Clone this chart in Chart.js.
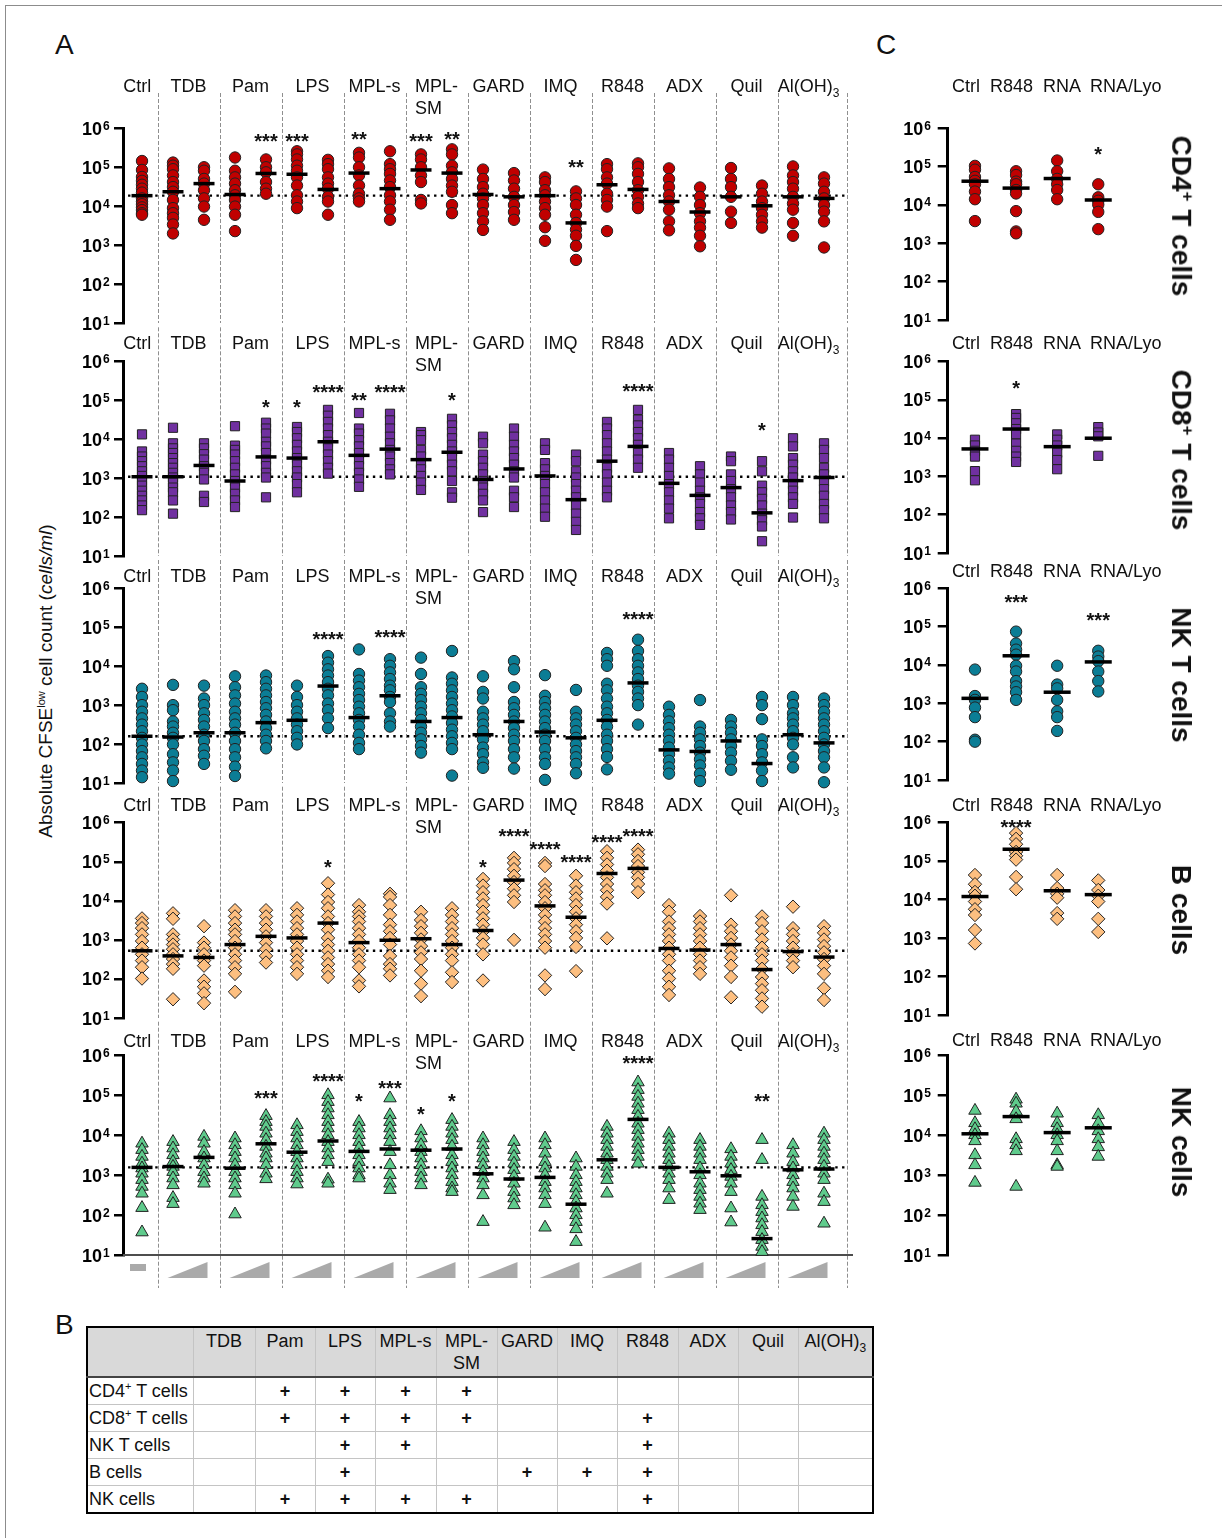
<!DOCTYPE html>
<html>
<head>
<meta charset="utf-8">
<script src="https://cdn.jsdelivr.net/npm/chart.js@4.4.1/dist/chart.umd.min.js"></script>
<style>
  body { margin: 0; background: #fff; font-family: "Liberation Sans", Arial, sans-serif; color: #111; }
  #page { position: relative; width: 1222px; height: 1538px; overflow: hidden; }
  #frame { position: absolute; left: 5px; top: 5px; width: 1300px; height: 1600px; border: 1px solid #8c8c8c; }
  .letter { position: absolute; font-size: 28px; line-height: 28px; }
  .rotated { position: absolute; white-space: nowrap; transform: translate(-50%, -50%) rotate(90deg); }
  #ytitle { position: absolute; left: 46px; top: 681px; white-space: nowrap; font-size: 19px; transform: translate(-50%, -50%) rotate(-90deg); }
  #ytitle sup { font-size: 11px; }
  .cellTitle { font-size: 28px; font-weight: bold; }
  .cellTitle sup { font-size: 17px; }
  table { position: absolute; left: 86px; top: 1326px; border-collapse: collapse; table-layout: fixed; border: 2px solid #000; font-size: 18px; }
  td { border: 1px solid #c4c4c4; padding: 0; height: 26px; text-align: center; overflow: visible; white-space: nowrap; }
  tr.head td { background: #d9d9d9; height: 46px; vertical-align: top; line-height: 22px; padding-top: 2px; border-bottom: 2px solid #444; }
  td.name { text-align: left; padding-left: 1px; }
  td.hit { font-weight: bold; }
  td sup { font-size: 11px; }
  td sub { font-size: 12px; }
</style>
</head>
<body>
<div id="page">
  <div id="frame"></div>
  <div class="letter" style="left:55px;top:31px">A</div>
  <div class="letter" style="left:876px;top:31px">C</div>
  <div class="letter" style="left:55px;top:1311px">B</div>
  <div id="ytitle">Absolute CFSE<sup>low</sup> cell count (<i>cells/ml</i>)</div>
</div>
<script>
// values are log10(cells/ml); one inner array per column
// panel A columns: Ctrl, then low/high dose of each adjuvant
const adjuvants = ['TDB', 'Pam', 'LPS', 'MPL-s', 'MPL-SM', 'GARD', 'IMQ', 'R848', 'ADX', 'Quil', 'Al(OH)3'];
const panelCGroups = ['Ctrl', 'R848', 'RNA', 'RNA/Lyo'];
const cellTypes = ['CD4<sup>+</sup> T cells', 'CD8<sup>+</sup> T cells', 'NK T cells', 'B cells', 'NK cells'];
const tickPowers = [1, 2, 3, 4, 5, 6];

const cd4Values = [
  [5.16, 4.93, 4.75, 4.65, 4.55, 4.45, 4.35, 4.2, 4.12, 4.05, 3.97, 3.9, 3.82, 3.78],
  [5.12, 5.04, 4.95, 4.79, 4.62, 4.49, 4.37, 4.16, 3.95, 3.82, 3.7, 3.53, 3.3],
  [5.0, 4.91, 4.7, 4.58, 4.41, 4.2, 3.99, 3.65],
  [5.25, 4.91, 4.74, 4.58, 4.41, 4.28, 4.16, 3.99, 3.78, 3.36],
  [5.2, 5.0, 4.87, 4.62, 4.45, 4.32],
  [5.41, 5.33, 5.2, 5.04, 4.91, 4.74, 4.53, 4.28, 4.12, 3.95],
  [5.19, 5.08, 4.95, 4.74, 4.58, 4.45, 4.24, 4.12, 3.78],
  [5.37, 5.25, 5.0, 4.79, 4.53, 4.32, 4.2, 4.12],
  [5.41, 5.08, 4.95, 4.83, 4.66, 4.49, 4.28, 4.12, 3.91, 3.65],
  [5.33, 5.2, 5.0, 4.79, 4.62, 4.16, 4.07],
  [5.46, 5.33, 5.04, 4.87, 4.7, 4.53, 4.37, 4.03, 3.82],
  [4.94, 4.7, 4.49, 4.32, 4.2, 4.03, 3.82, 3.61, 3.39],
  [4.85, 4.66, 4.45, 4.24, 4.03, 3.85, 3.65],
  [4.74, 4.62, 4.41, 4.28, 4.12, 3.95, 3.78, 3.46, 3.11],
  [4.38, 4.2, 4.03, 3.78, 3.57, 3.4, 3.24, 2.98, 2.62],
  [5.08, 4.95, 4.74, 4.58, 4.32, 4.16, 3.99, 3.36],
  [5.1, 5.0, 4.83, 4.62, 4.41, 4.24, 4.07, 3.95],
  [4.97, 4.7, 4.49, 4.28, 4.12, 3.91, 3.61, 3.38],
  [4.48, 4.24, 4.03, 3.82, 3.61, 3.45, 3.24, 2.97],
  [4.98, 4.7, 4.49, 4.24, 3.86, 3.57],
  [4.53, 4.32, 4.12, 3.95, 3.78, 3.61, 3.45],
  [5.02, 4.79, 4.62, 4.45, 4.24, 4.07, 3.91, 3.57, 3.24],
  [4.74, 4.58, 4.37, 4.2, 4.03, 3.86, 3.61, 2.94]
];
const cd4Medians = [4.27, 4.37, 4.58, 4.3, 4.84, 4.82, 4.43, 4.85, 4.45, 4.93, 4.85, 4.3, 4.24, 4.27, 3.57, 4.55, 4.43, 4.12, 3.85, 4.24, 4.01, 4.24, 4.2];
const cd4Stars = [[4, '***', 5.78], [5, '***', 5.78], [7, '**', 5.83], [9, '***', 5.78], [10, '**', 5.83], [14, '**', 5.13]];

const cd8Values = [
  [4.13, 3.69, 3.56, 3.44, 3.31, 3.18, 3.06, 2.93, 2.81, 2.68, 2.55, 2.43, 2.3, 2.18],
  [4.3, 3.9, 3.77, 3.65, 3.52, 3.39, 3.27, 3.14, 3.02, 2.89, 2.76, 2.64, 2.43, 2.09],
  [3.9, 3.77, 3.62, 3.48, 3.31, 3.14, 2.97, 2.55, 2.39],
  [4.34, 3.84, 3.73, 3.61, 3.44, 3.27, 3.1, 2.93, 2.76, 2.6, 2.43, 2.26],
  [4.43, 4.28, 4.15, 3.94, 3.82, 3.65, 3.48, 3.31, 3.14, 3.02, 2.51],
  [4.32, 4.19, 4.03, 3.86, 3.69, 3.52, 3.35, 3.18, 3.02, 2.85, 2.64],
  [4.76, 4.61, 4.45, 4.28, 4.11, 3.94, 3.77, 3.61, 3.44, 3.27, 3.12],
  [4.68, 4.28, 4.15, 3.98, 3.82, 3.65, 3.48, 3.31, 3.14, 2.97, 2.78],
  [4.66, 4.49, 4.28, 4.07, 3.9, 3.73, 3.56, 3.39, 3.23, 3.1],
  [4.19, 4.11, 3.98, 3.73, 3.56, 3.39, 3.23, 3.06, 2.89, 2.7],
  [4.53, 4.36, 4.19, 4.03, 3.86, 3.69, 3.52, 3.35, 3.18, 2.93, 2.64, 2.5],
  [4.07, 3.9, 3.61, 3.44, 3.27, 3.1, 2.93, 2.76, 2.6, 2.43, 2.13],
  [4.28, 4.07, 3.86, 3.69, 3.52, 3.35, 3.18, 3.02, 2.68, 2.51, 2.26],
  [3.9, 3.73, 3.39, 3.23, 3.06, 2.85, 2.64, 2.43, 2.22, 2.01],
  [3.61, 3.44, 3.18, 3.02, 2.85, 2.68, 2.51, 2.3, 2.09, 1.88, 1.67],
  [4.45, 4.28, 4.11, 3.9, 3.69, 3.48, 3.27, 3.1, 2.89, 2.68, 2.51],
  [4.76, 4.51, 4.36, 4.19, 4.03, 3.86, 3.65, 3.48, 3.27],
  [3.65, 3.48, 3.27, 3.06, 2.85, 2.64, 2.43, 2.22, 1.97],
  [3.31, 3.1, 2.89, 2.68, 2.51, 2.34, 2.13, 1.97, 1.8],
  [3.56, 3.44, 3.1, 2.93, 2.72, 2.51, 2.3, 2.13, 1.94],
  [3.44, 3.18, 2.81, 2.64, 2.47, 2.3, 2.09, 1.92, 1.76, 1.38],
  [4.03, 3.82, 3.52, 3.35, 3.18, 3.02, 2.85, 2.68, 2.51, 2.34, 1.99],
  [3.9, 3.73, 3.52, 3.27, 3.1, 2.93, 2.72, 2.55, 2.34, 2.18, 1.97]
];
const cd8Medians = [3.04, 3.04, 3.33, 2.93, 3.55, 3.52, 3.94, 3.59, 3.75, 3.48, 3.67, 2.97, 3.24, 3.06, 2.45, 3.44, 3.82, 2.87, 2.56, 2.76, 2.11, 2.94, 3.02];
const cd8Stars = [[4, '*', 4.95], [5, '*', 4.95], [6, '****', 5.33], [7, '**', 5.12], [8, '****', 5.33], [10, '*', 5.12], [16, '****', 5.37], [20, '*', 4.36]];

const nktValues = [
  [3.42, 3.21, 3.0, 2.83, 2.66, 2.5, 2.33, 2.16, 1.99, 1.82, 1.66, 1.49, 1.32, 1.15],
  [3.52, 3.0, 2.87, 2.58, 2.45, 2.29, 2.16, 1.99, 1.74, 1.53, 1.32, 1.05],
  [3.5, 3.17, 3.0, 2.79, 2.62, 2.45, 2.24, 2.08, 1.87, 1.7, 1.49],
  [3.74, 3.46, 3.25, 3.04, 2.83, 2.66, 2.5, 2.29, 2.08, 1.87, 1.66, 1.42, 1.18],
  [3.76, 3.59, 3.42, 3.25, 3.08, 2.92, 2.75, 2.58, 2.41, 2.24, 2.08, 1.89],
  [3.5, 3.21, 3.0, 2.83, 2.66, 2.5, 2.33, 2.16, 1.99],
  [4.26, 4.09, 3.92, 3.76, 3.59, 3.42, 3.25, 3.04, 2.87, 2.66, 2.41],
  [4.43, 3.8, 3.63, 3.46, 3.29, 3.13, 2.96, 2.79, 2.62, 2.45, 2.24, 2.03, 1.87],
  [4.18, 4.01, 3.84, 3.67, 3.5, 3.38, 3.21, 3.08, 2.79, 2.58, 2.45],
  [4.22, 3.8, 3.46, 3.29, 3.13, 2.96, 2.79, 2.62, 2.45, 2.29, 2.12, 1.95, 1.78],
  [4.39, 3.71, 3.55, 3.38, 3.21, 3.04, 2.87, 2.71, 2.54, 2.37, 2.2, 2.03, 1.87, 1.19],
  [3.74, 3.34, 3.17, 2.83, 2.66, 2.5, 2.33, 2.12, 1.91, 1.74, 1.53, 1.39],
  [4.13, 3.92, 3.46, 3.08, 2.92, 2.75, 2.58, 2.41, 2.24, 2.08, 1.87, 1.66, 1.37],
  [3.77, 3.24, 3.08, 2.92, 2.75, 2.58, 2.41, 2.24, 2.08, 1.87, 1.66, 1.49, 1.08],
  [3.39, 2.83, 2.66, 2.5, 2.33, 2.16, 1.99, 1.82, 1.66, 1.49, 1.25],
  [4.34, 4.18, 4.01, 3.55, 3.38, 3.17, 2.96, 2.79, 2.62, 2.45, 2.24, 2.08, 1.87, 1.67, 1.35],
  [4.68, 4.39, 4.18, 4.01, 3.84, 3.67, 3.5, 3.34, 3.17, 3.0, 2.5],
  [2.96, 2.75, 2.58, 2.41, 2.24, 2.08, 1.91, 1.74, 1.57, 1.4, 1.24],
  [3.13, 2.45, 2.29, 2.12, 1.95, 1.78, 1.61, 1.45, 1.24, 1.05],
  [2.62, 2.45, 2.29, 2.12, 1.95, 1.78, 1.57, 1.34],
  [3.21, 3.0, 2.64, 2.12, 1.95, 1.74, 1.53, 1.32, 1.05],
  [3.21, 3.0, 2.79, 2.66, 2.5, 2.33, 2.16, 1.99, 1.66, 1.4],
  [3.17, 3.0, 2.83, 2.66, 2.5, 2.33, 2.16, 1.99, 1.82, 1.66, 1.4, 1.02]
];
const nktMedians = [2.2, 2.18, 2.29, 2.29, 2.55, 2.61, 3.49, 2.68, 3.24, 2.58, 2.68, 2.24, 2.58, 2.31, 2.16, 2.61, 3.57, 1.85, 1.81, 2.08, 1.5, 2.24, 2.03];
const nktStars = [[6, '****', 4.82], [8, '****', 4.87], [16, '****', 5.33]];

const bValues = [
  [3.55, 3.43, 3.3, 3.14, 2.97, 2.8, 2.63, 2.47, 2.3, 2.01],
  [3.68, 3.54, 3.14, 3.01, 2.88, 2.76, 2.63, 2.51, 2.38, 2.26, 1.48],
  [3.35, 2.93, 2.8, 2.63, 2.47, 2.34, 1.96, 1.8, 1.63, 1.38],
  [3.76, 3.6, 3.43, 3.26, 3.14, 2.97, 2.8, 2.63, 2.47, 2.3, 2.13, 1.67],
  [3.76, 3.6, 3.43, 3.26, 3.09, 2.93, 2.76, 2.59, 2.42],
  [3.81, 3.64, 3.47, 3.3, 3.14, 2.97, 2.8, 2.63, 2.47, 2.3, 2.13],
  [4.45, 4.16, 3.97, 3.81, 3.6, 3.43, 3.26, 3.05, 2.88, 2.72, 2.55, 2.38, 2.21, 2.05],
  [3.89, 3.72, 3.6, 3.47, 3.3, 3.14, 2.97, 2.8, 2.63, 2.47, 2.3, 1.96, 1.81],
  [4.18, 4.1, 3.89, 3.64, 3.39, 3.22, 3.05, 2.88, 2.59, 2.38, 2.26, 2.09],
  [3.72, 3.51, 3.35, 3.18, 3.01, 2.84, 2.68, 2.51, 2.21, 1.88, 1.56],
  [3.81, 3.64, 3.47, 3.3, 3.14, 2.97, 2.8, 2.63, 2.47, 2.17, 1.92],
  [4.56, 4.39, 4.22, 4.06, 3.89, 3.72, 3.55, 3.39, 3.22, 3.05, 2.88, 2.63, 1.96],
  [5.1, 4.97, 4.81, 4.64, 4.48, 4.31, 4.14, 3.97, 3.0],
  [4.97, 4.89, 4.43, 4.27, 4.14, 3.97, 3.81, 3.64, 3.47, 3.3, 3.14, 2.97, 2.8, 2.09, 1.74],
  [4.64, 4.39, 4.22, 4.06, 3.89, 3.72, 3.55, 3.39, 3.22, 3.05, 2.82, 2.2],
  [5.27, 5.1, 4.93, 4.77, 4.6, 4.43, 4.27, 4.1, 3.93, 3.04],
  [5.31, 5.19, 5.02, 4.89, 4.73, 4.6, 4.43, 4.22],
  [3.89, 3.72, 3.47, 3.3, 3.14, 2.97, 2.8, 2.63, 2.47, 2.21, 2.01, 1.8, 1.59],
  [3.61, 3.47, 3.3, 3.14, 2.97, 2.8, 2.63, 2.47, 2.3, 2.13],
  [4.14, 3.39, 3.22, 3.05, 2.88, 2.72, 2.55, 2.34, 2.05, 1.53],
  [3.6, 3.43, 3.22, 3.01, 2.8, 2.63, 2.47, 2.26, 2.05, 1.88, 1.71, 1.5, 1.29],
  [3.85, 3.3, 3.14, 2.97, 2.8, 2.63, 2.47, 2.3],
  [3.35, 3.18, 3.01, 2.84, 2.68, 2.51, 2.34, 2.13, 1.76, 1.46]
];
const bMedians = [2.72, 2.59, 2.55, 2.88, 3.09, 3.05, 3.43, 2.93, 2.99, 3.03, 2.88, 3.24, 4.53, 3.87, 3.58, 4.7, 4.83, 2.78, 2.74, 2.88, 2.24, 2.7, 2.56];
const bStars = [[6, '*', 4.98], [11, '*', 4.98], [12, '****', 5.77], [13, '****', 5.44], [14, '****', 5.11], [15, '****', 5.61], [16, '****', 5.77]];

const nkValues = [
  [3.79, 3.63, 3.46, 3.29, 3.17, 3.04, 2.88, 2.71, 2.54, 2.18, 1.57],
  [3.83, 3.67, 3.5, 3.33, 3.21, 3.08, 2.92, 2.75, 2.43, 2.28],
  [3.96, 3.79, 3.58, 3.42, 3.25, 3.08, 2.92, 2.79],
  [3.92, 3.75, 3.58, 3.42, 3.25, 3.08, 2.92, 2.75, 2.54, 2.02],
  [4.48, 4.33, 4.21, 4.04, 3.88, 3.71, 3.54, 3.42, 3.25, 3.04, 2.9],
  [4.25, 4.08, 3.92, 3.75, 3.58, 3.42, 3.25, 3.08, 2.92, 2.77],
  [5.0, 4.83, 4.67, 4.5, 4.33, 4.17, 4.0, 3.83, 3.67, 3.5, 3.33, 2.89, 2.79],
  [4.33, 4.17, 4.0, 3.83, 3.67, 3.5, 3.33, 3.17, 3.0, 2.92],
  [4.92, 4.5, 4.33, 4.17, 4.0, 3.83, 3.58, 3.25, 3.0, 2.79, 2.63],
  [4.1, 3.92, 3.75, 3.58, 3.42, 3.25, 3.08, 2.92, 2.75],
  [4.38, 4.21, 4.04, 3.88, 3.71, 3.5, 3.33, 3.17, 3.0, 2.83, 2.67, 2.58],
  [3.92, 3.75, 3.58, 3.42, 3.25, 3.08, 2.92, 2.75, 2.5, 1.83],
  [3.83, 3.63, 3.46, 3.29, 3.13, 2.96, 2.79, 2.58, 2.42, 2.25],
  [3.92, 3.75, 3.54, 3.33, 3.17, 3.0, 2.83, 2.67, 2.5, 2.28, 1.69],
  [3.42, 3.21, 3.0, 2.83, 2.67, 2.5, 2.33, 2.17, 2.0, 1.83, 1.65, 1.33],
  [4.21, 4.04, 3.88, 3.71, 3.54, 3.38, 3.21, 3.04, 2.88, 2.54],
  [5.32, 5.13, 4.96, 4.79, 4.63, 4.46, 4.29, 4.13, 3.96, 3.79, 3.63, 3.46, 3.29],
  [4.04, 3.88, 3.71, 3.54, 3.38, 3.21, 3.04, 2.88, 2.67, 2.38],
  [3.88, 3.71, 3.54, 3.38, 3.17, 3.0, 2.79, 2.63, 2.46, 2.29, 2.13],
  [3.65, 3.46, 3.29, 3.13, 2.96, 2.79, 2.58, 2.17, 1.82],
  [3.88, 3.38, 2.46, 2.25, 2.08, 1.92, 1.75, 1.58, 1.38, 1.21, 1.08],
  [3.75, 3.54, 3.33, 3.17, 3.0, 2.83, 2.67, 2.46, 2.21],
  [4.04, 3.88, 3.71, 3.54, 3.38, 3.21, 3.04, 2.88, 2.54, 2.33, 1.79]
];
const nkMedians = [3.19, 3.21, 3.44, 3.17, 3.78, 3.57, 3.85, 3.59, 3.65, 3.62, 3.65, 3.03, 2.9, 2.94, 2.27, 3.38, 4.39, 3.19, 3.08, 2.98, 1.41, 3.13, 3.15];
const nkStars = [[4, '***', 5.04], [6, '****', 5.46], [7, '*', 4.96], [8, '***', 5.29], [9, '*', 4.63], [10, '*', 4.96], [16, '****', 5.92], [20, '**', 4.96]];

// panel C: Ctrl, R848, RNA, RNA/Lyo
const cd4ValuesC = [[5.02, 4.92, 4.73, 4.63, 4.54, 4.35, 4.15, 3.58], [4.88, 4.78, 4.61, 4.54, 4.39, 4.3, 3.84, 3.31, 3.26], [5.16, 4.88, 4.68, 4.54, 4.39, 4.15], [4.54, 4.2, 4.11, 4.01, 3.82, 3.37]];
const cd4MediansC = [4.62, 4.44, 4.69, 4.13];
const cd4StarsC = [[3, '*', 5.45]];
const cd8ValuesC = [[3.96, 3.81, 3.67, 3.52, 3.14, 2.9], [4.63, 4.53, 4.39, 4.24, 4.1, 3.86, 3.67, 3.52, 3.38], [4.1, 3.96, 3.81, 3.62, 3.43, 3.19], [4.29, 4.15, 4.05, 3.54]];
const cd8MediansC = [3.72, 4.24, 3.78, 4.0];
const cd8StarsC = [[1, '*', 5.44]];
const nktValuesC = [[3.88, 3.19, 3.09, 2.89, 2.64, 2.05, 2.0], [4.87, 4.56, 4.4, 4.27, 3.98, 3.83, 3.58, 3.44, 3.29, 3.09], [3.98, 3.49, 3.39, 3.09, 2.79, 2.64, 2.28], [4.37, 4.22, 4.1, 3.83, 3.58, 3.31]];
const nktMediansC = [3.13, 4.24, 3.29, 4.08];
const nktStarsC = [[1, '***', 5.77], [3, '***', 5.28]];
const bValuesC = [[4.64, 4.4, 4.2, 4.1, 3.95, 3.75, 3.6, 3.21, 2.86], [5.73, 5.58, 5.44, 5.24, 5.14, 5.04, 4.59, 4.27], [4.64, 4.3, 4.15, 4.05, 3.65, 3.5], [4.5, 4.25, 4.1, 3.95, 3.5, 3.16]];
const bMediansC = [4.08, 5.31, 4.23, 4.13];
const bStarsC = [[1, '****', 6.0]];
const nkValuesC = [[4.61, 4.3, 4.15, 4.0, 3.85, 3.5, 3.25, 2.81], [4.89, 4.79, 4.59, 4.4, 3.9, 3.75, 3.6, 2.71], [4.54, 4.3, 4.15, 4.0, 3.85, 3.6, 3.25, 3.21], [4.5, 4.3, 4.1, 3.9, 3.7, 3.46]];
const nkMediansC = [4.03, 4.46, 4.06, 4.18];
const nkStarsC = [];

// panel B: adjuvants marked "+" per cell type
const tableHits = [
  ['Pam', 'LPS', 'MPL-s', 'MPL-SM'],
  ['Pam', 'LPS', 'MPL-s', 'MPL-SM', 'R848'],
  ['LPS', 'MPL-s', 'R848'],
  ['LPS', 'GARD', 'IMQ', 'R848'],
  ['Pam', 'LPS', 'MPL-s', 'MPL-SM', 'R848']
];

// ---------------------------------------------------------------------------

const FONT = '"Liberation Sans", Arial, sans-serif';
const page = document.getElementById('page');

const markers = [
  { style: 'circle', r: 5.7, fill: '#c00000' },
  { style: 'rect', r: 6.5, fill: '#7030a0' },
  { style: 'circle', r: 5.7, fill: '#0b7d95' },
  { style: 'rectRot', r: 6.7, fill: '#fdbf80' },
  { style: 'triangle', r: 7.2, fill: '#5fcb8c' }
];

// page geometry of each row (px): canvas top/bottom, pixel of 10^6 and 10^1
const rowLayout = [
  { top: 70, bottom: 337, y6: 128.3, y1: 327.3, labelA: 87, labelC: 87, sepFrom: 93, titleY: 216 },
  { top: 320, bottom: 570, y6: 361.7, y1: 560, labelA: 344, labelC: 344, sepFrom: 327.3, titleY: 450 },
  { top: 552, bottom: 797, y6: 588.3, y1: 786.7, labelA: 577, labelC: 572, sepFrom: 560, titleY: 675 },
  { top: 780, bottom: 1032, y6: 822.7, y1: 1021.7, labelA: 806, labelC: 806, sepFrom: 786.7, titleY: 910 },
  { top: 1015, bottom: 1292, y6: 1055, y1: 1255, labelA: 1042, labelC: 1041, sepFrom: 1021.7, titleY: 1142 }
];

const rowsA = [
  { values: cd4Values, medians: cd4Medians, stars: cd4Stars },
  { values: cd8Values, medians: cd8Medians, stars: cd8Stars },
  { values: nktValues, medians: nktMedians, stars: nktStars },
  { values: bValues, medians: bMedians, stars: bStars },
  { values: nkValues, medians: nkMedians, stars: nkStars }
];
const rowsC = [
  { values: cd4ValuesC, medians: cd4MediansC, stars: cd4StarsC },
  { values: cd8ValuesC, medians: cd8MediansC, stars: cd8StarsC },
  { values: nktValuesC, medians: nktMediansC, stars: nktStarsC },
  { values: bValuesC, medians: bMediansC, stars: bStarsC },
  { values: nkValuesC, medians: nkMediansC, stars: nkStarsC }
];

function addCanvas(left, top, width, height) {
  const canvas = document.createElement('canvas');
  canvas.width = width;
  canvas.height = height;
  canvas.style.cssText = `position:absolute;left:${left}px;top:${top}px;width:${width}px;height:${height}px`;
  page.appendChild(canvas);
  return canvas;
}

function drawGroupLabel(ctx, text, cx, cy) {
  ctx.font = '18px ' + FONT;
  ctx.textBaseline = 'middle';
  if (text === 'MPL-SM') {
    const w = ctx.measureText('MPL-').width;
    ctx.textAlign = 'left';
    ctx.fillText('MPL-', cx - w / 2, cy);
    ctx.fillText('SM', cx - w / 2, cy + 22);
  } else if (text === 'Al(OH)3') {
    const w1 = ctx.measureText('Al(OH)').width;
    ctx.font = '12px ' + FONT;
    const w2 = ctx.measureText('3').width;
    const x0 = cx - (w1 + w2) / 2;
    ctx.textAlign = 'left';
    ctx.fillText('3', x0 + w1, cy + 7);
    ctx.font = '18px ' + FONT;
    ctx.fillText('Al(OH)', x0, cy);
  } else {
    ctx.textAlign = 'center';
    ctx.fillText(text, cx, cy);
  }
}

function drawPowerLabels(chart, gap) {
  const ctx = chart.ctx;
  const yScale = chart.scales.y;
  const left = chart.chartArea.left;
  ctx.save();
  ctx.fillStyle = '#000';
  ctx.textBaseline = 'alphabetic';
  tickPowers.forEach(function (p) {
    const py = yScale.getPixelForValue(Math.pow(10, p));
    ctx.font = 'bold 18px ' + FONT;
    ctx.textAlign = 'right';
    ctx.fillText('10', left - gap, py + 6.5);
    ctx.font = 'bold 12px ' + FONT;
    ctx.textAlign = 'left';
    ctx.fillText(String(p), left - gap + 1, py + 1.5);
  });
  ctx.restore();
}

function drawStars(chart, stars) {
  const ctx = chart.ctx;
  ctx.save();
  ctx.fillStyle = '#111';
  ctx.font = 'bold 20px ' + FONT;
  ctx.textAlign = 'center';
  ctx.textBaseline = 'alphabetic';
  stars.forEach(function (star) {
    const px = chart.scales.x.getPixelForValue(star[0]);
    const py = chart.scales.y.getPixelForValue(Math.pow(10, star[2]));
    ctx.fillText(star[1], px, py + 11.5);
  });
  ctx.restore();
}

function buildDatasets(row, marker, barRadius, refLine) {
  const points = [];
  row.values.forEach(function (column, i) {
    column.forEach(function (v) {
      points.push({ x: i, y: Math.pow(10, v) });
    });
  });
  const bars = row.medians.map((v, i) => ({ x: i, y: Math.pow(10, v) }));
  const datasets = [];
  if (refLine) {
    const ctrl = Math.pow(10, row.medians[0]);
    datasets.push({
      data: [{ x: refLine[0], y: ctrl }, { x: refLine[1], y: ctrl }],
      showLine: true,
      borderColor: '#000',
      borderWidth: 2.4,
      borderDash: [2.4, 4.4],
      pointRadius: 0,
      order: 3,
      clip: false
    });
  }
  datasets.push({
    data: points,
    pointStyle: marker.style,
    pointRadius: marker.r,
    pointBackgroundColor: marker.fill,
    pointBorderColor: '#222',
    pointBorderWidth: 1,
    order: 2,
    clip: false
  });
  datasets.push({
    data: bars,
    pointStyle: 'line',
    pointRadius: barRadius,
    pointBorderColor: '#000',
    pointBorderWidth: 3.5,
    order: 1,
    clip: false
  });
  return datasets;
}

function makeChart(canvas, datasets, geo, plugin) {
  return new Chart(canvas, {
    type: 'scatter',
    data: { datasets: datasets },
    options: {
      responsive: false,
      animation: false,
      events: [],
      layout: { padding: { top: geo.padTop, bottom: geo.padBottom, left: 0, right: geo.padRight } },
      plugins: { legend: { display: false }, tooltip: { enabled: false } },
      scales: {
        x: { type: 'linear', min: geo.xMin, max: geo.xMax, display: false },
        y: {
          type: 'logarithmic',
          min: 10,
          max: 1e6,
          afterBuildTicks: function (scale) {
            scale.ticks = tickPowers.map(p => ({ value: Math.pow(10, p) }));
          },
          afterFit: function (scale) {
            scale.width = geo.axisWidth;
          },
          ticks: { display: false },
          grid: { drawOnChartArea: false, drawTicks: true, tickLength: geo.tickLength, lineWidth: 2.5, color: '#000' },
          border: { color: '#000', width: 3 }
        }
      }
    },
    plugins: [plugin]
  });
}

// separators between adjuvant groups (x in column units)
const separators = adjuvants.map((a, g) => 2 * g + 0.5).concat([22.75]);

rowsA.forEach(function (row, k) {
  const lay = rowLayout[k];
  const width = 870;
  const canvas = addCanvas(0, lay.top, width, lay.bottom - lay.top);
  const isLast = k === rowsA.length - 1;
  const plugin = {
    id: 'panelA' + k,
    beforeDatasetsDraw(chart) {
      const ctx = chart.ctx;
      const x = chart.scales.x;
      const area = chart.chartArea;
      ctx.save();
      ctx.strokeStyle = '#8f8f8f';
      ctx.lineWidth = 1;
      ctx.setLineDash([4, 2]);
      const yTo = isLast ? 1288 - lay.top : area.bottom;
      separators.forEach(function (sv) {
        const px = Math.round(x.getPixelForValue(sv)) + 0.5;
        ctx.beginPath();
        ctx.moveTo(px, lay.sepFrom - lay.top);
        ctx.lineTo(px, yTo);
        ctx.stroke();
      });
      ctx.setLineDash([]);
      if (isLast) {
        ctx.strokeStyle = '#4d4d4d';
        ctx.lineWidth = 2;
        ctx.beginPath();
        ctx.moveTo(area.left, area.bottom);
        ctx.lineTo(area.right, area.bottom);
        ctx.stroke();
        // dose ramps under each adjuvant, a flat bar under Ctrl
        ctx.fillStyle = '#aaaaaa';
        const c0 = x.getPixelForValue(0);
        ctx.fillRect(c0 - 12, area.bottom + 9, 16, 7);
        adjuvants.forEach(function (a, g) {
          const cx = x.getPixelForValue(2 * g + 1.5);
          ctx.beginPath();
          ctx.moveTo(cx - 21, area.bottom + 23);
          ctx.lineTo(cx + 19, area.bottom + 23);
          ctx.lineTo(cx + 19, area.bottom + 7);
          ctx.closePath();
          ctx.fill();
        });
      }
      ctx.restore();
    },
    afterDraw(chart) {
      const ctx = chart.ctx;
      const x = chart.scales.x;
      drawPowerLabels(chart, 21);
      ctx.save();
      ctx.fillStyle = '#111';
      const ly = lay.labelA - lay.top;
      drawGroupLabel(ctx, 'Ctrl', x.getPixelForValue(-0.15), ly);
      adjuvants.forEach(function (a, g) {
        drawGroupLabel(ctx, a, x.getPixelForValue(2 * g + 1.5), ly);
      });
      ctx.restore();
      drawStars(chart, row.stars);
    }
  };
  const geo = {
    padTop: lay.y6 - lay.top,
    padBottom: lay.bottom - lay.y1,
    padRight: width - 853,
    axisWidth: 123,
    tickLength: 9,
    xMin: -0.613,
    xMax: 22.935
  };
  makeChart(canvas, buildDatasets(row, markers[k], 10.5, [-0.45, 22.78]), geo, plugin);
});

// panel C label offsets (column units) match the original's text line
const panelCLabelX = [-0.22, 0.89, 2.12, 3.67];

rowsC.forEach(function (row, k) {
  const lay = rowLayout[k];
  const width = 300;
  const canvas = addCanvas(880, lay.top, width, lay.bottom - lay.top);
  const plugin = {
    id: 'panelC' + k,
    afterDraw(chart) {
      const ctx = chart.ctx;
      const x = chart.scales.x;
      drawPowerLabels(chart, 24.5);
      ctx.save();
      ctx.fillStyle = '#111';
      panelCGroups.forEach(function (label, i) {
        drawGroupLabel(ctx, label, x.getPixelForValue(panelCLabelX[i]), lay.labelC - lay.top);
      });
      ctx.restore();
      drawStars(chart, row.stars);
    }
  };
  const geo = {
    padTop: lay.y6 - lay.top,
    padBottom: lay.bottom - lay.y1,
    padRight: 40,
    axisWidth: 67.7,
    tickLength: 10,
    xMin: -0.664,
    xMax: 4.016
  };
  makeChart(canvas, buildDatasets(row, markers[k], 13.5, null), geo, plugin);

  const title = document.createElement('div');
  title.className = 'rotated cellTitle';
  title.style.left = '1181px';
  title.style.top = lay.titleY + 'px';
  title.innerHTML = cellTypes[k];
  page.appendChild(title);
});

// panel B table
(function () {
  const widths = [106, 62, 60, 60, 61, 61, 60, 60, 61, 60, 60, 75];
  const table = document.createElement('table');
  table.style.width = '786px';
  const colgroup = document.createElement('colgroup');
  widths.forEach(function (w) {
    const col = document.createElement('col');
    col.style.width = w + 'px';
    colgroup.appendChild(col);
  });
  table.appendChild(colgroup);
  const head = document.createElement('tr');
  head.className = 'head';
  head.innerHTML = '<td></td>' + adjuvants.map(function (a) {
    if (a === 'MPL-SM') return '<td>MPL-<br>SM</td>';
    if (a === 'Al(OH)3') return '<td>Al(OH)<sub>3</sub></td>';
    return '<td>' + a + '</td>';
  }).join('');
  table.appendChild(head);
  cellTypes.forEach(function (name, k) {
    const tr = document.createElement('tr');
    tr.innerHTML = '<td class="name">' + name + '</td>' + adjuvants.map(function (a) {
      return tableHits[k].indexOf(a) >= 0 ? '<td class="hit">+</td>' : '<td></td>';
    }).join('');
    table.appendChild(tr);
  });
  page.appendChild(table);
})();
</script>
</body>
</html>
